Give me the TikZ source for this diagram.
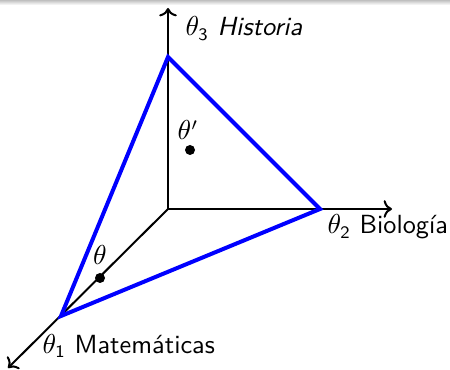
\documentclass[tikz,border=0pt]{standalone}
\usetikzlibrary{arrows.meta}
\begin{document}
\begin{tikzpicture}[x=0.4pt,y=-0.4pt,
  axis/.style={draw=black,line width=0.8pt,->},
  tri/.style={draw=blue,line width=1.6pt,line join=miter},
  lbl/.style={font=\sffamily\fontsize{10.5}{12}\selectfont,inner sep=0pt},
  dot/.style={circle,fill=black,inner sep=0pt,minimum size=4pt}]
\useasboundingbox (0,0) rectangle (450,370);
\shade[top color=black!25,bottom color=white,draw=none] (0,0) rectangle (450,5);
\coordinate (O) at (168,209);
\coordinate (T3) at (168,8);
\coordinate (T2) at (392,209);
\coordinate (T1) at (8,368);
\coordinate (A3) at (168,57);
\coordinate (A2) at (320,209);
\coordinate (A1) at (61,316);
\draw[axis] (O) -- (T3);
\draw[axis] (O) -- (T2);
\draw[axis] (O) -- (T1);
\draw[tri] (A3) -- (A2) -- (A1) -- cycle;
\node[dot] (p1) at (190,150) {};
\node[dot] (p2) at (100,278) {};
\node[lbl,anchor=base] (l1) at (188,140) {$\theta'$};
\node[lbl,anchor=base] (l2) at (100,265) {$\theta$};
\node[lbl,anchor=base west] (x3) at (185,36) {$\theta_{\mathsf{3}}$ \textit{Historia}};
\node[lbl,anchor=base west] (x2) at (327,234) {$\theta_{\mathsf{2}}$ Biología};
\node[lbl,anchor=base west] (x1) at (42,353) {$\theta_{\mathsf{1}}$ Matemáticas};
\end{tikzpicture}
\end{document}
